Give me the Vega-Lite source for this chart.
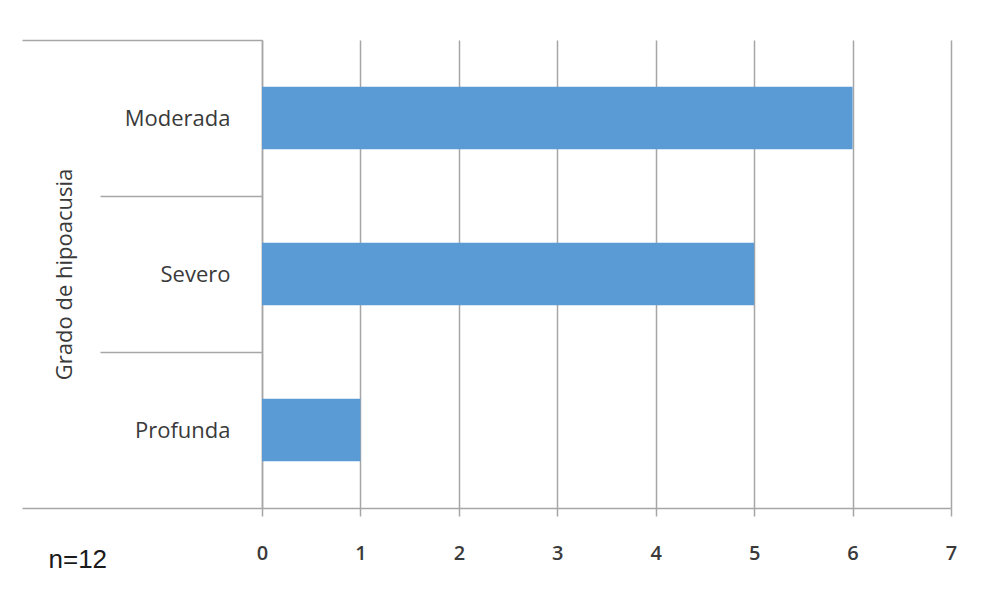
{
  "$schema": "https://vega.github.io/schema/vega-lite/v6.json",
  "width": 689,
  "height": 468,
  "autosize": {"type": "none"},
  "padding": {"left": 262, "top": 40, "right": 31, "bottom": 90},
  "background": "white",
  "config": {"view": {"stroke": null}},
  "data": {
    "values": [
      {"grado": "Moderada", "n": 6},
      {"grado": "Severo", "n": 5},
      {"grado": "Profunda", "n": 1}
    ]
  },
  "mark": {"type": "bar", "color": "#5b9bd5", "height": {"band": 0.4}},
  "encoding": {
    "y": {
      "field": "grado",
      "type": "nominal",
      "sort": ["Moderada", "Severo", "Profunda"],
      "scale": {"paddingInner": 0, "paddingOuter": 0},
      "axis": {
        "title": "Grado de hipoacusia",
        "tickBand": "extent",
        "tickSize": 240,
        "tickDash": {
          "condition": {"test": "!(datum.index >= 0 && datum.index < 1)", "value": [240, 0]},
          "value": [162, 1000]
        },
        "tickColor": "#a6a6a6",
        "tickWidth": 1.5,
        "domainColor": "#a6a6a6",
        "domainWidth": 1.5,
        "labelPadding": -208,
        "labelFont": "Open Sans",
        "labelFontSize": 22,
        "labelColor": "#3a3a3a",
        "titleFont": "Open Sans",
        "titleFontSize": 22,
        "titleFontWeight": "normal",
        "titleColor": "#3a3a3a",
        "titleX": -186,
        "titleY": 234
      }
    },
    "x": {
      "field": "n",
      "type": "quantitative",
      "scale": {"domain": [0, 7]},
      "axis": {
        "values": [0, 1, 2, 3, 4, 5, 6, 7],
        "grid": true,
        "gridColor": "#a6a6a6",
        "gridWidth": 1.5,
        "tickSize": 8,
        "tickColor": "#a6a6a6",
        "tickWidth": 1.5,
        "domainColor": "#a6a6a6",
        "domainWidth": 1.5,
        "labelPadding": 27,
        "labelFlush": false,
        "labelFont": "Open Sans",
        "labelFontSize": 20,
        "labelFontWeight": 600,
        "labelColor": "#3a3a3a",
        "title": "n=12",
        "titleX": -214,
        "titleY": 59,
        "titleAlign": "left",
        "titleBaseline": "alphabetic",
        "titleFont": "Liberation Sans",
        "titleFontSize": 26,
        "titleFontWeight": "normal",
        "titleColor": "#1a1a1a"
      }
    }
  }
}
